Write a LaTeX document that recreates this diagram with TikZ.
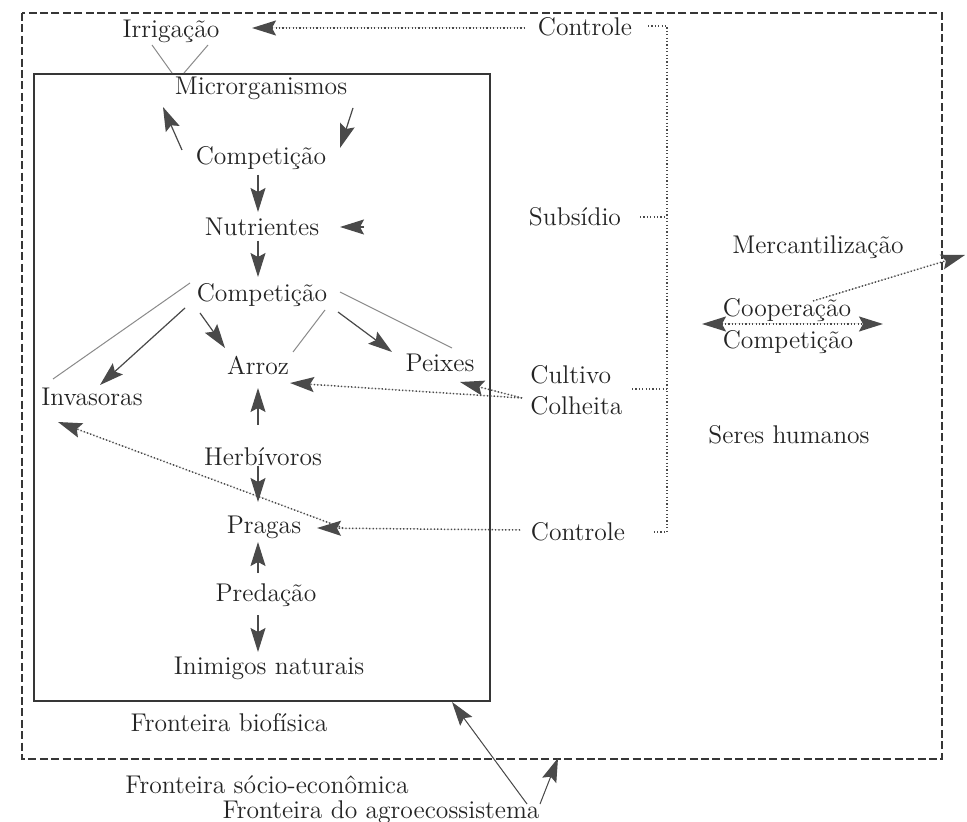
\documentclass[tikz,border=0pt]{standalone}
\usetikzlibrary{arrows.meta}
\definecolor{txt}{HTML}{242424}
\definecolor{ln}{HTML}{4A4A4A}
\definecolor{thinc}{HTML}{8A8A8A}
\definecolor{bx}{HTML}{363636}
\begin{document}
\begin{tikzpicture}[x=0.5pt,y=-0.5pt,
  lbl/.style={font=\fontsize{12.8}{15}\selectfont, text=txt, inner sep=1pt},
  bighead/.tip={Stealth[length=12pt,width=7.5pt,inset=2pt]},
  headtip/.style={-bighead},
  arr/.style={headtip, draw=ln, fill=ln, line width=0.6pt},
  dots/.style={draw=ln, line width=0.75pt, dash pattern=on 0.6pt off 1.1pt},
  darr/.style={dots, headtip, fill=ln},
  thinline/.style={draw=thinc, line width=0.5pt},
]
\useasboundingbox[fill=white] (0,0) rectangle (967,822);

% boundaries
\draw[bx, line width=1.1pt] (34,74) rectangle (490,701);
\draw[bx, line width=1.2pt, dash pattern=on 4pt off 1.7pt] (22,13) rectangle (942,759);

% labels
\node[lbl] (irrig)   at (171,31)  {Irrigação};
\node[lbl] (ctrlTop) at (585,27)  {Controle};
\node[lbl] (micro)   at (261,88)  {Microrganismos};
\node[lbl] (comp1)   at (261,158) {Competição};
\node[lbl] (nutr)    at (262,227) {Nutrientes};
\node[lbl] (subs)    at (575,217) {Subsídio};
\node[lbl] (merc)    at (818,247) {Mercantilização};
\node[lbl] (comp2)   at (262,295) {Competição};
\node[lbl] (coop)    at (787,310) {Cooperação};
\node[lbl] (compH)   at (788,342) {Competição};
\node[lbl] (arroz)   at (258,365) {Arroz};
\node[lbl] (peixes)  at (440,363) {Peixes};
\node[lbl, anchor=west] (cult) at (528,375) {Cultivo};
\node[lbl, anchor=west] (colh) at (528,406) {Colheita};
\node[lbl] (inv)     at (92,397)  {Invasoras};
\node[lbl] (seres)   at (789,435) {Seres humanos};
\node[lbl] (herb)    at (263,457) {Herbívoros};
\node[lbl] (pragas)  at (264,527) {Pragas};
\node[lbl] (ctrlBot) at (578,532) {Controle};
\node[lbl] (pred)    at (266,595) {Predação};
\node[lbl] (inim)    at (269,668) {Inimigos naturais};
\node[lbl] (fbio)    at (229,723) {Fronteira biofísica};
\node[lbl] (fsoc)    at (267,785) {Fronteira sócio-econômica};
\node[lbl] (fagro)   at (381,812) {Fronteira do agroecossistema};

% irrigation feeding the microorganisms
\draw[thinline] ([shift={(-19,14)}]irrig.center) -- ([shift={(-89,-15)}]micro.center);
\draw[thinline] ([shift={(37,14)}]irrig.center) -- ([shift={(-77,-15)}]micro.center);

% human management (dotted)
\draw[darr] ([shift={(-60,1)}]ctrlTop.center) -- ([shift={(81,-3)}]irrig.center);
\draw[dots] ([shift={(63,-1)}]ctrlTop.center) -| ([shift={(89,0)}]ctrlBot.center)
            -- ([shift={(74,0)}]ctrlBot.center);
\draw[dots] ([shift={(65,0)}]subs.center) -- ++(27,0);
\draw[dots] ([shift={(104,-17)}]colh.west) -- ++(35,0);
\draw[darr] ([shift={(-6,-8)}]colh.west) -- ([shift={(20,19)}]peixes.center);
\draw[darr] ([shift={(-6,-8)}]colh.west) -- ([shift={(32,18)}]arroz.center);
\draw[darr] ([shift={(-58,-2)}]ctrlBot.center) -- ([shift={(53,1)}]pragas.center);
\draw[darr] ([shift={(79,1)}]pragas.center) -- ([shift={(-34,25)}]inv.center);

% biological interactions
\draw[arr] ([shift={(-79,-8)}]comp1.center) -- ([shift={(-98,19)}]micro.center);
\draw[arr] ([shift={(92,20)}]micro.center) -- ([shift={(79,-10)}]comp1.center);
\draw[arr] ([shift={(-3,17)}]comp1.center) -- ([shift={(-4,-15)}]nutr.center);
\draw[arr] ([shift={(102,0)}]nutr.center) -- ([shift={(78,0)}]nutr.center);
\draw[arr] ([shift={(-4,14)}]nutr.center) -- ([shift={(-4,-18)}]comp2.center);

\draw[thinline] ([shift={(-72,-12)}]comp2.center) -- ([shift={(-39,-18)}]inv.center);
\draw[arr] ([shift={(-77,13)}]comp2.center) -- ([shift={(8,-12)}]inv.center);
\draw[arr] ([shift={(-62,18)}]comp2.center) -- ([shift={(-33,-17)}]arroz.center);
\draw[thinline] ([shift={(63,15)}]comp2.center) -- ([shift={(35,-13)}]arroz.center);
\draw[arr] ([shift={(76,17)}]comp2.center) -- ([shift={(-48,-11)}]peixes.center);
\draw[thinline] ([shift={(78,-3)}]comp2.center) -- ([shift={(12,-15)}]peixes.center);

\draw[arr] ([shift={(-5,-32)}]herb.center) -- ([shift={(0,23)}]arroz.center);
\draw[arr] ([shift={(-5,9)}]herb.center) -- ([shift={(-6,-25)}]pragas.center);
\draw[arr] ([shift={(-8,-22)}]pred.center) -- ([shift={(-6,15)}]pragas.center);
\draw[arr] ([shift={(-8,20)}]pred.center) -- ([shift={(-11,-16)}]inim.center);

% human interactions
\draw[darr] ([shift={(26,-9)}]coop.center) -- ([shift={(147,8)}]merc.center);
\draw[dots, bighead-bighead, fill=ln]
  ([shift={(-85,14)}]coop.center) -- ([shift={(96,14)}]coop.center);

% pointers to the boundaries
\draw[arr, line width=0.5pt] ([shift={(146,-8)}]fagro.center) -- ([shift={(71,-110)}]fagro.center);
\draw[arr, line width=0.5pt] ([shift={(159,-8)}]fagro.center) -- ([shift={(177,-54)}]fagro.center);
\end{tikzpicture}
\end{document}
